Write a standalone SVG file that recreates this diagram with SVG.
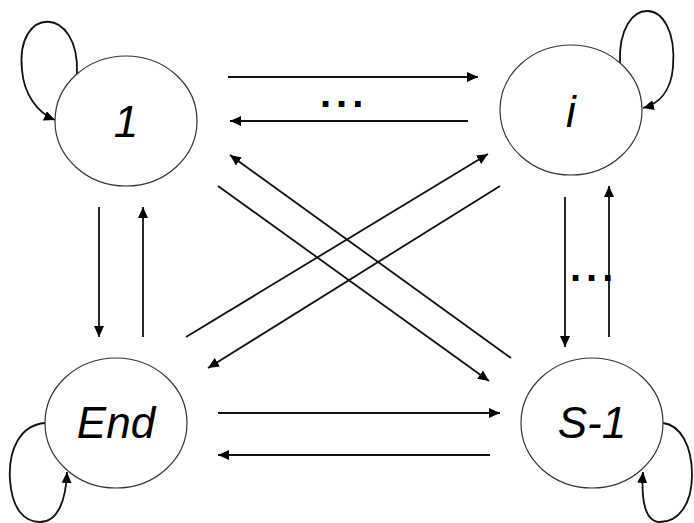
<svg xmlns="http://www.w3.org/2000/svg" width="694" height="523" viewBox="0 0 694 523">
  <style>
    .state ellipse { fill: #fff; stroke: #333; stroke-width: 1.2; }
    .state text { font-family: "Liberation Sans", Arial, sans-serif; font-style: italic; font-size: 44px; fill: #000; text-anchor: middle; }
    .edge { fill: none; stroke: #111; stroke-width: 1.8; marker-end: url(#arrow); }
    .dots { font-family: "Liberation Sans", Arial, sans-serif; font-weight: bold; font-size: 40px; letter-spacing: 5px; fill: #000; }
  </style>
  <defs>
    <marker id="arrow" markerUnits="userSpaceOnUse" markerWidth="11" markerHeight="10" refX="11" refY="5" orient="auto">
      <path d="M0,0 L11,5 L0,10 z" fill="#000"/>
    </marker>
  </defs>
  <rect width="694" height="523" fill="#fff"/>

  <g id="connectors">
    <!-- self loops -->
    <path class="edge" d="M77,74 C80,5 15,5 22,70 C24,95 38,113 55,120"/>
    <path class="edge" d="M620,63 C617,-7 679,-7 673,67 C671,92 658,104 643,108"/>
    <path class="edge" d="M45,423 C20,425 8,450 10,480 C12,510 25,522 40,522 C58,522 66,500 67,472"/>
    <path class="edge" d="M663,423 C680,425 692,445 692,475 C692,505 678,522 660,522 C645,522 641,500 643,472"/>
    <!-- horizontal -->
    <path class="edge" d="M228,77 L478,77"/>
    <path class="edge" d="M468,121 L230,121"/>
    <path class="edge" d="M218,413 L500,413"/>
    <path class="edge" d="M490,455 L218,455"/>
    <!-- vertical -->
    <path class="edge" d="M99,207 L99,337"/>
    <path class="edge" d="M143,337 L143,207"/>
    <path class="edge" d="M565,197 L565,347"/>
    <path class="edge" d="M609,337 L609,186"/>
    <!-- diagonal -->
    <path class="edge" d="M511,358 L230,155"/>
    <path class="edge" d="M218,186 L489,381"/>
    <path class="edge" d="M186,337 L488,154"/>
    <path class="edge" d="M500,186 L208,368"/>
    <!-- ellipsis marks -->
    <text class="dots" x="320" y="107">...</text>
    <text class="dots" x="570" y="281">...</text>
  </g>

  <g id="node-1" class="state">
    <ellipse cx="126" cy="121" rx="71" ry="65"/>
    <text x="126" y="137">1</text>
  </g>
  <g id="node-i" class="state">
    <ellipse cx="571" cy="110" rx="71" ry="65"/>
    <text x="571" y="127">i</text>
  </g>
  <g id="node-end" class="state">
    <ellipse cx="116" cy="423" rx="71" ry="65"/>
    <text x="116" y="438">End</text>
  </g>
  <g id="node-s1" class="state">
    <ellipse cx="592" cy="423" rx="71" ry="65"/>
    <text x="592" y="438">S-1</text>
  </g>
</svg>
